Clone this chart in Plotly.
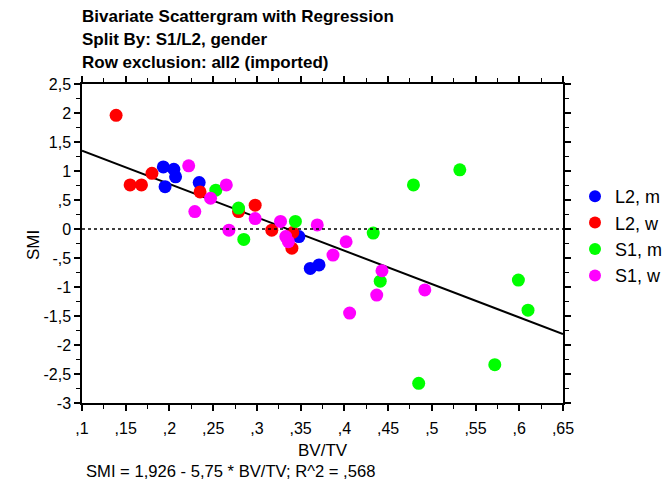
import plotly.graph_objects as go

# ---- data ----
l2m_x = [0.193, 0.205, 0.207, 0.195, 0.234, 0.348, 0.361, 0.371]
l2m_y = [1.07, 1.03, 0.90, 0.73, 0.80, -0.13, -0.68, -0.62]

l2w_x = [0.139, 0.155, 0.168, 0.180, 0.235, 0.279, 0.298, 0.317, 0.341, 0.340]
l2w_y = [1.96, 0.76, 0.76, 0.96, 0.64, 0.30, 0.41, -0.02, -0.06, -0.33]

s1m_x = [0.253, 0.279, 0.285, 0.344, 0.433, 0.441, 0.479, 0.532, 0.599, 0.610, 0.572, 0.485]
s1m_y = [0.67, 0.36, -0.18, 0.13, -0.07, -0.90, 0.76, 1.02, -0.88, -1.40, -2.34, -2.66]

s1w_x = [0.222, 0.229, 0.247, 0.265, 0.268, 0.298, 0.327, 0.333, 0.336, 0.369,
         0.387, 0.402, 0.443, 0.437, 0.492, 0.406]
s1w_y = [1.09, 0.30, 0.53, 0.76, -0.02, 0.18, 0.13, -0.13, -0.22, 0.07,
         -0.45, -0.22, -0.72, -1.14, -1.05, -1.45]

intercept = 1.926
slope = -5.75

x_tickvals = [0.1, 0.15, 0.2, 0.25, 0.3, 0.35, 0.4, 0.45, 0.5, 0.55, 0.6, 0.65]
x_ticktext = [",1", ",15", ",2", ",25", ",3", ",35", ",4", ",45", ",5", ",55", ",6", ",65"]
y_tickvals = [2.5, 2, 1.5, 1, 0.5, 0, -0.5, -1, -1.5, -2, -2.5, -3]
y_ticktext = ["2,5", "2", "1,5", "1", ",5", "0", "-,5", "-1", "-1,5", "-2", "-2,5", "-3"]

title_lines = ["Bivariate Scattergram with Regression",
               "Split By: S1/L2, gender",
               "Row exclusion: all2 (imported)"]
equation = "SMI = 1,926 - 5,75 * BV/TV; R^2 = ,568"
x_title = "BV/TV"
y_title = "SMI"

x_range = [0.1, 0.65]
y_range = [-3, 2.5]

FONT = "Liberation Sans, Arial, sans-serif"

fig = go.Figure()

series = [
    ("L2, m", l2m_x, l2m_y, "#0000FF"),
    ("L2, w", l2w_x, l2w_y, "#FF0000"),
    ("S1, m", s1m_x, s1m_y, "#00FF00"),
    ("S1, w", s1w_x, s1w_y, "#FF00FF"),
]

# regression line
fig.add_trace(go.Scatter(
    x=x_range, y=[intercept + slope * v for v in x_range],
    mode="lines", line=dict(color="black", width=2), showlegend=False,
    hoverinfo="skip"))

for name, xs, ys, col in series:
    fig.add_trace(go.Scatter(
        x=xs, y=ys, mode="markers", name=name, legendgroup=name,
        marker=dict(color=col, size=13, line=dict(width=0))))

# dotted zero line
fig.add_shape(type="line", xref="paper", yref="y", x0=0, x1=1, y0=0, y1=0,
              line=dict(color="black", width=1.5, dash="dot"))

axis_common = dict(
    showgrid=False, zeroline=False, showline=True, linecolor="black",
    linewidth=1.5, ticks="outside", ticklen=6, tickwidth=1.5, tickcolor="black",
    mirror="ticks",
    tickfont=dict(family=FONT, size=16, color="black"),
)

fig.update_xaxes(range=x_range, tickvals=x_tickvals, ticktext=x_ticktext,
                 minor=dict(dtick=0.025, ticks="outside", ticklen=4,
                            tickwidth=1.2, tickcolor="black", tick0=0.1),
                 ticklabelstandoff=4,
                 **axis_common)
fig.update_yaxes(range=y_range, tickvals=y_tickvals, ticktext=y_ticktext,
                 minor=dict(dtick=0.25, ticks="outside", ticklen=4,
                            tickwidth=1.2, tickcolor="black", tick0=0),
                 **axis_common)

PLOT_BOTTOM = 403
PLOT_H = 319
PLOT_L = 82
PLOT_W = 481

def py(pix):
    return (PLOT_BOTTOM - pix) / PLOT_H

def px(pix):
    return (pix - PLOT_L) / PLOT_W

for line, yc in zip(title_lines, [16, 39, 62]):
    fig.add_annotation(text="<b>" + line + "</b>", xref="paper", yref="paper",
                       x=px(80), y=py(yc), xanchor="left", yanchor="middle",
                       showarrow=False,
                       font=dict(family=FONT, size=17, color="black"))

fig.add_annotation(text=equation, xref="paper", yref="paper",
                   x=px(84), y=py(472), xanchor="left", yanchor="middle",
                   showarrow=False, font=dict(family=FONT, size=16.6, color="black"))

fig.add_annotation(text=x_title, xref="paper", yref="paper",
                   x=px(323), y=py(450), xanchor="center", yanchor="middle",
                   showarrow=False, font=dict(family=FONT, size=17, color="black"))

fig.add_annotation(text=y_title, xref="paper", yref="paper", textangle=-90,
                   x=px(33), y=py(245), xanchor="center", yanchor="middle",
                   showarrow=False, font=dict(family=FONT, size=17, color="black"))

fig.update_layout(
    width=666, height=490,
    margin=dict(l=82, r=103, t=84, b=87, autoexpand=False),
    plot_bgcolor="white", paper_bgcolor="white",
    font=dict(family=FONT, size=16, color="black"),
    legend=dict(x=px(575), y=py(178), xanchor="left", yanchor="top",
                font=dict(family=FONT, size=18, color="black"),
                tracegroupgap=0, itemsizing="constant",
                bgcolor="rgba(0,0,0,0)"),
)

fig.write_html("out.html",
               config={"displayModeBar": False},
               post_script="document.body.style.margin='0';document.body.style.padding='0';document.body.style.overflow='hidden';")
